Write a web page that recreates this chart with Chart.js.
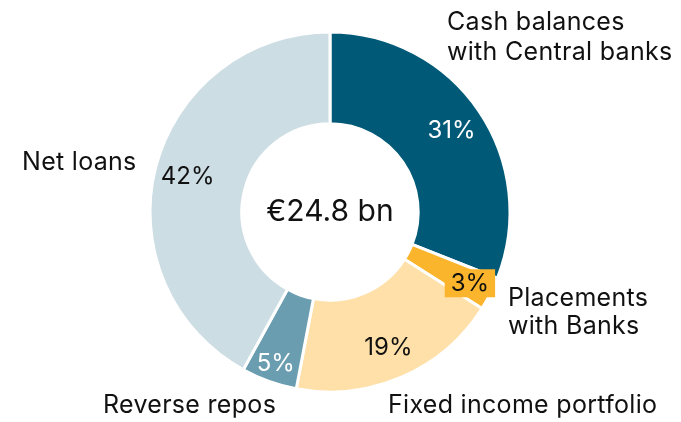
<!DOCTYPE html>
<html>
<head>
<meta charset="utf-8">
<script src="https://cdn.jsdelivr.net/npm/chart.js@4.4.1/dist/chart.umd.min.js"></script>
<style>
  html, body { margin: 0; padding: 0; background: #fff; }
  #wrap { width: 681px; height: 422px; }
</style>
</head>
<body>
<div id="wrap"><canvas id="grafico"></canvas></div>
<script>
const categorias = [
  ["Cash balances", "with Central banks"],
  ["Placements", "with Banks"],
  ["Fixed income portfolio"],
  ["Reverse repos"],
  ["Net loans"]
];
const valores = [31, 3, 19, 5, 42];
const total = "€24.8 bn";

const cores = ["#005a77", "#fbb52c", "#fee0a8", "#699daf", "#cddde4"];
const corTexto = ["#ffffff", "#111111", "#111111", "#ffffff", "#111111"];
const raioRotulo = [147, 157, 147, 160, 147];
// posicao dos nomes (x, y do centro da 1a linha, espacamento)
const posNomes = [
  [447, 22, 30], [508, 298, 28], [388, 405, 0], [103, 405, 0], [22, 162, 0]
];

const fonte = "Inter, 'Noto Sans', sans-serif";

const rotulos = {
  id: "rotulos",
  afterDatasetsDraw(chart) {
    const ctx = chart.ctx;
    const meta = chart.getDatasetMeta(0);
    ctx.save();
    ctx.textBaseline = "middle";
    meta.data.forEach((arc, i) => {
      const p = arc.getProps(["x", "y", "startAngle", "endAngle"], true);
      const meio = (p.startAngle + p.endAngle) / 2;
      const x = p.x + Math.cos(meio) * raioRotulo[i];
      const y = p.y + Math.sin(meio) * raioRotulo[i];
      const txt = valores[i] + "%";
      ctx.letterSpacing = "0px";
      ctx.font = "24px " + fonte;
      ctx.textAlign = "center";
      if (i === 1) {
        const w = ctx.measureText(txt).width + 12;
        ctx.fillStyle = cores[1];
        ctx.fillRect(x - w / 2, y - 14, w, 28);
      }
      ctx.fillStyle = corTexto[i];
      ctx.fillText(txt, x, y + 1);

      // nomes das categorias
      ctx.fillStyle = "#111";
      ctx.font = "25px " + fonte;
      ctx.letterSpacing = "0.3px";
      ctx.textAlign = "left";
      categorias[i].forEach((linha, k) => {
        ctx.fillText(linha, posNomes[i][0], posNomes[i][1] + k * posNomes[i][2]);
      });
    });
    // total no centro
    const c = meta.data[0];
    ctx.letterSpacing = "0px";
    ctx.font = "30px " + fonte;
    ctx.textAlign = "center";
    ctx.fillStyle = "#111";
    ctx.fillText(total, c.x, c.y);
    ctx.restore();
  }
};

new Chart(document.getElementById("grafico"), {
  type: "doughnut",
  data: {
    labels: categorias.map(c => c.join(" ")),
    datasets: [{
      data: valores,
      backgroundColor: cores,
      borderColor: "#ffffff",
      borderWidth: 3,
      borderAlign: "center",
      hoverOffset: 0
    }]
  },
  options: {
    responsive: true,
    maintainAspectRatio: false,
    animation: false,
    radius: 180,
    cutout: "49%",
    layout: { padding: { left: 0, right: 21, top: 2, bottom: 0 } },
    plugins: {
      legend: { display: false },
      tooltip: { enabled: false }
    }
  },
  plugins: [rotulos]
});
</script>
</body>
</html>
